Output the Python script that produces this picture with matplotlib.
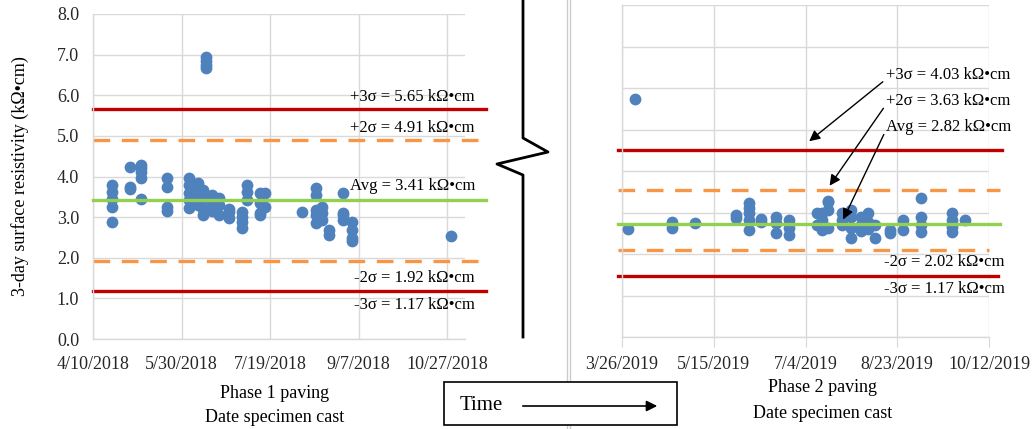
import datetime as dt
import matplotlib
matplotlib.use("Agg")
import matplotlib.pyplot as plt
import matplotlib.dates as mdates
from matplotlib.lines import Line2D
from matplotlib.patches import Rectangle, FancyArrowPatch
from matplotlib.ticker import FuncFormatter, MultipleLocator

plt.rcParams['font.family'] = ['Liberation Serif', 'DejaVu Serif']

# Phase 1 data (date cast, resistivity values in kOhm-cm)
p1_dates = ["2018-04-21", "2018-05-01", "2018-05-07", "2018-05-22", "2018-06-03",
            "2018-06-08", "2018-06-11", "2018-06-13", "2018-06-16", "2018-06-20",
            "2018-06-26", "2018-07-03", "2018-07-06", "2018-07-13", "2018-07-16",
            "2018-08-06", "2018-08-14", "2018-08-17", "2018-08-21", "2018-08-29",
            "2018-09-03", "2018-10-29"]
p1_vals = [[3.78, 3.62, 3.45, 3.25, 2.87],
           [4.24, 3.75, 3.70],
           [4.28, 4.20, 4.10, 3.97, 3.45],
           [3.97, 3.74, 3.25, 3.15],
           [3.97, 3.80, 3.60, 3.42, 3.22],
           [3.85, 3.70, 3.50, 3.30],
           [3.67, 3.45, 3.20, 3.05],
           [6.95, 6.85, 6.75, 6.68],
           [3.55, 3.35, 3.15],
           [3.47, 3.30, 3.05],
           [3.20, 3.13, 2.98],
           [3.13, 3.00, 2.88, 2.73],
           [3.80, 3.62, 3.42],
           [3.60, 3.35, 3.10, 3.05],
           [3.60, 3.25],
           [3.12],
           [3.72, 3.55, 3.18, 3.05, 2.86],
           [3.25, 3.10, 2.93],
           [2.68, 2.56],
           [3.60, 3.10, 3.05, 2.93],
           [2.88, 2.68, 2.49, 2.42],
           [2.54]]

# Phase 2 data
p2_dates = ["2019-03-29", "2019-04-02", "2019-04-22", "2019-05-05", "2019-05-27",
            "2019-06-03", "2019-06-10", "2019-06-18", "2019-06-25", "2019-07-10",
            "2019-07-13", "2019-07-16", "2019-07-24", "2019-07-29", "2019-08-03",
            "2019-08-07", "2019-08-11", "2019-08-19", "2019-08-26", "2019-09-05",
            "2019-09-22", "2019-09-29"]
p2_vals = [[2.60],
           [5.73],
           [2.77, 2.62],
           [2.74],
           [2.94, 2.87],
           [3.23, 3.10, 2.99, 2.82, 2.58],
           [2.85, 2.77],
           [2.89, 2.75, 2.50],
           [2.82, 2.63, 2.46],
           [2.99, 2.70],
           [3.00, 2.82, 2.58],
           [3.28, 3.25, 3.06, 2.62],
           [3.00, 2.82, 2.70],
           [3.05, 2.90, 2.62, 2.38],
           [2.89, 2.70, 2.55],
           [3.00, 2.77, 2.60],
           [2.70, 2.39],
           [2.58, 2.50],
           [2.82, 2.58],
           [3.35, 2.89, 2.70, 2.53],
           [3.00, 2.82, 2.65, 2.53],
           [2.82]]

# control limits: +3s, +2s, avg, -2s, -3s
p1_levels = [5.65, 4.91, 3.41, 1.92, 1.17]
p2_levels = [4.50, 3.55, 2.72, 2.10, 1.47]   # as drawn in the figure
p1_labels = ["+3σ = 5.65 kΩ•cm", "+2σ = 4.91 kΩ•cm", "Avg = 3.41 kΩ•cm",
             "-2σ = 1.92 kΩ•cm", "-3σ = 1.17 kΩ•cm"]
p2_labels = ["+3σ = 4.03 kΩ•cm", "+2σ = 3.63 kΩ•cm", "Avg = 2.82 kΩ•cm",
             "-2σ = 2.02 kΩ•cm", "-3σ = 1.17 kΩ•cm"]

p1_ticks = ["2018-04-10", "2018-05-30", "2018-07-19", "2018-09-07", "2018-10-27"]
p2_ticks = ["2019-03-26", "2019-05-15", "2019-07-04", "2019-08-23", "2019-10-12"]
p1_xlim = ["2018-04-10", "2018-11-06"]
p2_xlim = ["2019-03-26", "2019-10-12"]

BLUE = "#4F81BD"
RED = "#C00000"
ORANGE = "#F79646"
GREEN = "#92D050"
GRID = "#D9D9D9"
line_styles = [(RED, "-"), (ORANGE, (0, (5, 3.5))), (GREEN, "-"),
               (ORANGE, (0, (5, 3.5))), (RED, "-")]

W, H = 1036, 429


def d(s):
    return dt.datetime.strptime(s, "%Y-%m-%d")


def fx(px):
    return px / W


def fy(py):
    return 1 - py / H


def date_fmt(x, pos):
    t = mdates.num2date(x)
    return f"{t.month}/{t.day}/{t.year}"


def expand(dates, vals):
    xs, ys = [], []
    for ds, vs in zip(dates, vals):
        for v in vs:
            xs.append(d(ds))
            ys.append(v)
    return xs, ys


fig = plt.figure(figsize=(W / 100, H / 100), dpi=100)

ax1 = fig.add_axes([fx(93), fy(339), (465 - 93) / W, (339 - 14) / H])
ax2 = fig.add_axes([fx(622), fy(337), (989 - 622) / W, (337 - 5) / H])

for ax, dates, vals, ticks, xlim in [(ax1, p1_dates, p1_vals, p1_ticks, p1_xlim),
                                     (ax2, p2_dates, p2_vals, p2_ticks, p2_xlim)]:
    xs, ys = expand(dates, vals)
    ax.scatter(xs, ys, s=72, color=BLUE, zorder=3, linewidths=0)
    ax.set_xlim(d(xlim[0]), d(xlim[1]))
    ax.set_ylim(0, 8)
    ax.set_xticks([d(t) for t in ticks])
    ax.xaxis.set_major_formatter(FuncFormatter(date_fmt))
    ax.yaxis.set_major_locator(MultipleLocator(1))
    ax.grid(True, color=GRID, lw=1)
    ax.set_axisbelow(True)
    for s in ["top", "right"]:
        ax.spines[s].set_visible(False)
    for s in ["left", "bottom"]:
        ax.spines[s].set_color(GRID)
        ax.spines[s].set_linewidth(1)
    ax.tick_params(labelsize=13, colors="#262626")

ax1.yaxis.set_major_formatter(FuncFormatter(lambda v, p: f"{v:.1f}"))
ax1.tick_params(axis="both", length=0)
ax1.tick_params(axis="x", pad=12)
ax1.tick_params(axis="y", pad=10)
ax2.tick_params(axis="y", length=0, labelleft=False)
ax2.tick_params(axis="x", length=7, color=GRID, pad=7)

# control lines (extend a little past the plot area like the original)
p1_ext = [(0.0, 1.057)] * 5
p2_ext = [(-0.01, 1.035), (-0.01, 1.03), (-0.01, 1.03), (-0.01, 1.0), (-0.01, 1.025)]
for ax, levels, ext in [(ax1, p1_levels, p1_ext), (ax2, p2_levels, p2_ext)]:
    for lv, (c, ls), (x0, x1) in zip(levels, line_styles, ext):
        ax.axhline(lv, xmin=x0, xmax=x1, color=c, ls=ls, lw=2.4,
                   clip_on=False, zorder=2 if c != GREEN else 4)

# left labels
for lab, py in zip(p1_labels, [97, 128, 186, 278, 305]):
    fig.text(fx(475), fy(py), lab, ha="right", va="center", fontsize=12)

# right labels with arrows for the top three
arrow_tips = [(807, 143), (828, 188), (842, 222)]
for lab, py, tip in zip(p2_labels[:3], [75, 101, 127], arrow_tips):
    fig.text(fx(886), fy(py), lab, ha="left", va="center", fontsize=12)
    fig.add_artist(FancyArrowPatch(
        (fx(885), fy(py + 5)), (fx(tip[0]), fy(tip[1])),
        transform=fig.transFigure, arrowstyle="-|>", mutation_scale=16,
        color="black", lw=1.0, zorder=6))
for lab, py in zip(p2_labels[3:], [262, 289]):
    fig.text(fx(1005), fy(py), lab, ha="right", va="center", fontsize=12)

# axis titles
fig.text(fx(20), fy(176), "3-day surface resistivity (kΩ•cm)", rotation=90,
         ha="center", va="center", fontsize=13)
fig.text(fx(275), fy(393), "Phase 1 paving", ha="center", va="center", fontsize=13)
fig.text(fx(275), fy(418), "Date specimen cast", ha="center", va="center", fontsize=13)
fig.text(fx(823), fy(388), "Phase 2 paving", ha="center", va="center", fontsize=13)
fig.text(fx(823), fy(413), "Date specimen cast", ha="center", va="center", fontsize=13)

# axis break symbol
bx = [523, 523, 548, 497, 523, 523]
by = [0, 138, 152, 164, 175, 337]
fig.add_artist(Line2D([fx(v) for v in bx], [fy(v) for v in by], color="black", lw=2))

# separator double line between the two charts
for px in [567, 570]:
    fig.add_artist(Line2D([fx(px), fx(px)], [0, 1], color="#CCCCCC", lw=1))

# Time box
fig.add_artist(Rectangle((fx(444), fy(425)), (677 - 444) / W, (425 - 382) / H,
                         transform=fig.transFigure, fill=True, facecolor="white",
                         edgecolor="black", lw=1.2, zorder=5))
fig.text(fx(460), fy(406), "Time", ha="left", va="center", fontsize=15, zorder=6)
fig.add_artist(FancyArrowPatch(
    (fx(520), fy(406)), (fx(660), fy(406)), transform=fig.transFigure,
    arrowstyle="-|>", mutation_scale=16, color="black", lw=1.2, zorder=6))

fig.savefig("out.png", dpi=100)
